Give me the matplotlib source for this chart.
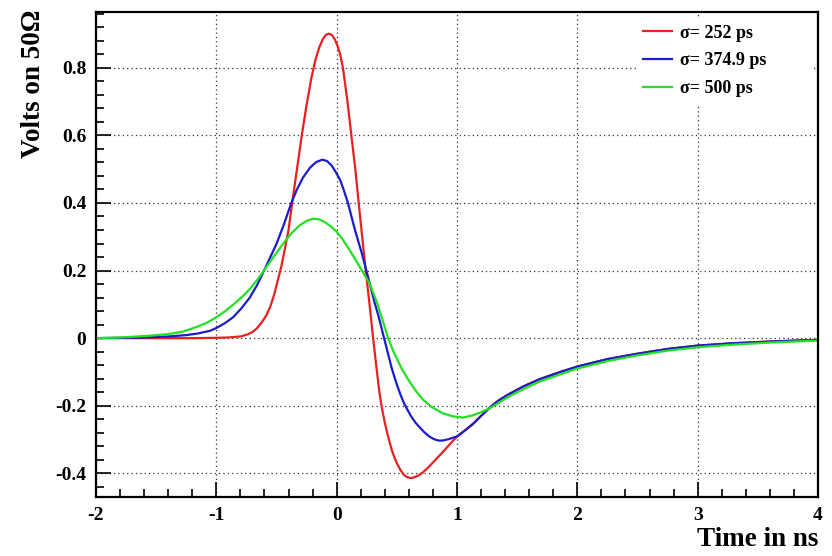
import matplotlib
matplotlib.use("Agg")
import matplotlib.pyplot as plt
from matplotlib.ticker import MultipleLocator

# ---- data ----
red_t = [-2.0, -1.5, -1.2, -1.0, -0.9, -0.8, -0.74, -0.70, -0.66, -0.62, -0.585, -0.55,
         -0.52, -0.49, -0.46, -0.43, -0.40, -0.37, -0.33, -0.29, -0.25, -0.21, -0.175,
         -0.145, -0.115, -0.09, -0.065, -0.04, -0.015, 0.01, 0.03, 0.052, 0.09, 0.122,
         0.155, 0.183, 0.212, 0.24, 0.27, 0.30, 0.33, 0.355, 0.375, 0.40, 0.42, 0.44,
         0.46, 0.48, 0.50, 0.53, 0.56, 0.59, 0.62, 0.65, 0.68, 0.717, 0.76, 0.80, 0.85,
         0.90, 0.95, 1.0, 1.07, 1.135, 1.2, 1.274, 1.34, 1.41, 1.55, 1.69, 1.85, 2.0, 2.25,
         2.5, 2.75, 3.0, 3.3, 3.6, 4.0]
red_v = [0.0, 0.0, 0.0, 0.001, 0.002, 0.005, 0.011, 0.018, 0.030, 0.048, 0.067, 0.095,
         0.128, 0.17, 0.212, 0.265, 0.32, 0.40, 0.50, 0.60, 0.69, 0.77, 0.825,
         0.86, 0.885, 0.897, 0.901, 0.897, 0.884, 0.862, 0.838, 0.80, 0.70, 0.60,
         0.50, 0.40, 0.30, 0.205, 0.11, 0.01, -0.085, -0.16, -0.205, -0.25, -0.28, -0.308,
         -0.333, -0.353, -0.37, -0.39, -0.405, -0.412, -0.414, -0.411, -0.406, -0.397,
         -0.383, -0.368, -0.349, -0.33, -0.31, -0.291, -0.272, -0.253, -0.23, -0.205,
         -0.186, -0.17, -0.143, -0.121, -0.101, -0.084, -0.062, -0.046, -0.032, -0.022,
         -0.015, -0.010, -0.005]

blue_t = [-2.0, -1.6, -1.4, -1.25, -1.15, -1.05, -1.0, -0.93, -0.86, -0.79, -0.72, -0.66,
          -0.61, -0.555, -0.50, -0.44, -0.377, -0.33, -0.28, -0.22, -0.17, -0.12, -0.08,
          -0.04, 0.0, 0.03, 0.06, 0.094, 0.13, 0.16, 0.206, 0.247, 0.275, 0.31, 0.35,
          0.394, 0.425, 0.456, 0.48, 0.50, 0.53, 0.56, 0.59, 0.62, 0.655, 0.69, 0.73, 0.77,
          0.81, 0.845, 0.88, 0.93, 0.97, 1.0, 1.07, 1.135, 1.2, 1.274, 1.34, 1.41, 1.55,
          1.69, 1.85, 2.0, 2.25, 2.5, 2.75, 3.0, 3.3, 3.6, 4.0]
blue_v = [0.0, 0.002, 0.005, 0.009, 0.014, 0.022, 0.03, 0.044, 0.062, 0.089, 0.121, 0.158,
          0.195, 0.237, 0.279, 0.335, 0.40, 0.44, 0.475, 0.505, 0.521, 0.528, 0.524,
          0.51, 0.487, 0.467, 0.437, 0.40, 0.35, 0.31, 0.255, 0.20, 0.161, 0.112, 0.062,
          0.0, -0.043, -0.087, -0.115, -0.137, -0.167, -0.193, -0.213, -0.232, -0.25,
          -0.264, -0.279, -0.291, -0.299, -0.303, -0.303, -0.299, -0.294, -0.291, -0.272,
          -0.253, -0.23, -0.205, -0.186, -0.17, -0.143, -0.121, -0.101, -0.084, -0.062,
          -0.046, -0.032, -0.022, -0.015, -0.010, -0.005]

green_t = [-2.0, -1.8, -1.56, -1.4, -1.28, -1.15, -1.07, -1.0, -0.93, -0.86, -0.79, -0.72,
           -0.65, -0.585, -0.515, -0.446, -0.38, -0.31, -0.25, -0.197, -0.15, -0.10, -0.05,
           0.0, 0.05, 0.10, 0.15, 0.21, 0.275, 0.33, 0.38, 0.428, 0.47, 0.51, 0.54, 0.58,
           0.61, 0.66, 0.72, 0.79, 0.88, 0.96, 1.05, 1.135, 1.2, 1.274, 1.34, 1.41, 1.55,
           1.69, 1.85, 2.0, 2.25, 2.5, 2.75, 3.0, 3.3, 3.6, 4.0]
green_v = [0.0, 0.002, 0.007, 0.012, 0.019, 0.035, 0.047, 0.062, 0.079, 0.099, 0.121, 0.146,
           0.177, 0.21, 0.245, 0.279, 0.309, 0.333, 0.347, 0.353, 0.352, 0.344, 0.331,
           0.315, 0.292, 0.265, 0.236, 0.20, 0.161, 0.11, 0.055, 0.0, -0.038, -0.068,
           -0.090, -0.114, -0.131, -0.157, -0.183, -0.204, -0.222, -0.231, -0.235, -0.228,
           -0.219, -0.207, -0.193, -0.177, -0.151, -0.128, -0.108, -0.09, -0.068, -0.051,
           -0.037, -0.027, -0.019, -0.013, -0.007]

labels = ["σ= 252 ps", "σ= 374.9 ps", "σ= 500 ps"]
colors = ["#e82020", "#1c1cc8", "#22e022"]

# ---- figure ----
serif = ["Liberation Serif", "DejaVu Serif"]
plt.rcParams["font.family"] = serif
plt.rcParams["font.weight"] = "bold"

W, H = 832, 556
fig = plt.figure(figsize=(W / 100, H / 100), dpi=100)
ax = fig.add_axes([96 / W, 1 - 497 / H, (818 - 96) / W, (497 - 12) / H])

for t, v, c, lab in zip([red_t, blue_t, green_t], [red_v, blue_v, green_v], colors, labels):
    ax.plot(t, v, color=c, lw=1.6, label=lab, solid_joinstyle="round", zorder=4)

ax.set_xlim(-2, 4)
ax.set_ylim(-0.47, 0.965)
ax.xaxis.set_minor_locator(MultipleLocator(0.2))
ax.yaxis.set_minor_locator(MultipleLocator(0.04))
ax.set_yticks([-0.4, -0.2, 0, 0.2, 0.4, 0.6, 0.8])
ax.set_yticklabels(["-0.4", "-0.2", "0", "0.2", "0.4", "0.6", "0.8"])
ax.set_xticks([-2, -1, 0, 1, 2, 3, 4])
ax.set_xticklabels(["-2", "-1", "0", "1", "2", "3", "4"])

ax.tick_params(which="both", direction="in", top=False, right=False, labelsize=14,
               width=1.2, colors="black")
ax.tick_params(which="major", length=11, pad=7)
ax.tick_params(which="minor", length=5.5)
for lab in ax.get_xticklabels() + ax.get_yticklabels():
    lab.set_fontweight("bold")

for s in ax.spines.values():
    s.set_linewidth(1.6)
    s.set_zorder(6)

ax.grid(True, which="major", color="#333333", linestyle=(0, (1, 2.5)), linewidth=0.9)

# white legend background (no border), as in the reference
bg = plt.Rectangle((637 / W, 1 - 104 / H), (812 - 637) / W, (104 - 18) / H,
                   transform=fig.transFigure, facecolor="white", edgecolor="none",
                   zorder=3)
ax.add_patch(bg)

leg = fig.legend(loc="upper left", bbox_to_anchor=(643 / W, 1 - 24.5 / H),
                 bbox_transform=fig.transFigure, frameon=False,
                 prop={"family": serif, "weight": "bold", "size": 13},
                 handlelength=1.6, handletextpad=0.45, labelspacing=0.6,
                 borderpad=0, borderaxespad=0)

fig.text(818 / W, 1 - 540 / H, "Time in ns", ha="right", va="center",
         fontsize=19.5, fontweight="bold")
fig.text(34 / W, 1 - 9 / H, "Volts on 50Ω", ha="center", va="top", rotation=90,
         fontsize=19.5, fontweight="bold")

fig.savefig("out.png", dpi=100)
